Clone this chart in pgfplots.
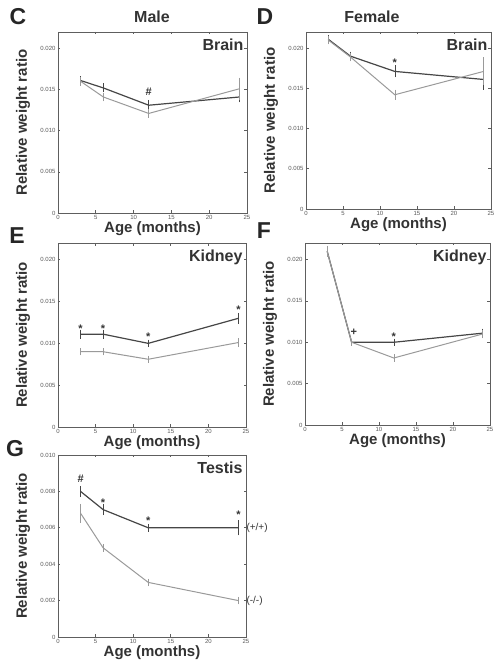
\documentclass[border=0pt]{standalone}
\usepackage{pgfplots}
\pgfplotsset{compat=1.18}
\usepackage{fontspec}
\setmainfont{Liberation Sans}
\definecolor{wt}{HTML}{464646}
\definecolor{ko}{HTML}{9A9A9A}
\definecolor{frame}{HTML}{5E5E5E}

\pgfplotsset{
  panel/.style={
    scale only axis,
    xmin=0, xmax=25, ymin=0, ymax=0.022,
    xtick={0,5,10,15,20,25},
    ytick={0,0.005,0.010,0.015,0.020},
    yticklabels={0,0.005,0.010,0.015,0.020},
    scaled y ticks=false,
    tick align=inside,
    tick pos=both,
    xticklabel pos=bottom, yticklabel pos=left,
    major tick length=2.5pt,
    axis line style={frame, line width=0.9pt},
    every tick/.style={frame, line width=0.6pt},
    tick label style={font=\fontsize{6}{7}\selectfont, text=black!65},
    /pgf/number format/assume math mode=true,
    xticklabel style={yshift=1pt},
    yticklabel style={xshift=1pt},
    xlabel={Age (months)},
    ylabel={Relative weight ratio},
    every axis x label/.style={at={(rel axis cs:0.5,0)}, anchor=center, yshift=-16pt,
      font=\fontsize{15}{17}\selectfont\bfseries, text=black!80},
    every axis y label/.style={at={(rel axis cs:0,0.5)}, anchor=center, xshift=-35pt, rotate=90,
      font=\fontsize{15}{17}\selectfont\bfseries, text=black!80},
    clip=false,
  },
  wtline/.style={wt, line width=1.2pt, mark=none,
    error bars/.cd, y dir=both, y explicit,
    error bar style={wt, line width=0.5pt},
    error mark options={wt, line width=0.5pt, mark size=2pt}},
  koline/.style={ko, line width=1.0pt, mark=none,
    error bars/.cd, y dir=both, y explicit,
    error bar style={ko, line width=0.5pt},
    error mark options={ko, line width=0.5pt, mark size=2pt}},
}
\tikzset{
  inname/.style={font=\fontsize{16}{18}\selectfont\bfseries, text=black!80, anchor=north east},
  sig/.style={font=\fontsize{11}{12}\selectfont\bfseries, text=black!80},
  letter/.style={font=\fontsize{23}{25}\selectfont\bfseries, text=black!85},
  geno/.style={font=\fontsize{10}{11}\selectfont, text=black!80, anchor=west},
}

\begin{document}
\begin{tikzpicture}
\useasboundingbox (0pt,0pt) rectangle (494pt,665pt);

% panel letters and titles
\node[letter] at (18pt,648pt) {C};
\node[font=\fontsize{16}{18}\selectfont\bfseries, text=black!80] at (152pt,648pt) {Male};
\node[letter] at (265pt,648pt) {D};
\node[font=\fontsize{16}{18}\selectfont\bfseries, text=black!80] at (372pt,648pt) {Female};
\node[letter] at (17pt,429pt) {E};
\node[letter] at (264pt,434pt) {F};
\node[letter] at (15pt,216pt) {G};

% C: male brain
\begin{axis}[panel, at={(58pt,452pt)}, anchor=south west, width=189pt, height=181pt]
\addplot+[wtline] table[y error=e] {
x y e
3 0.0161 0.0003
6 0.0152 0.0003
12 0.0131 0.0004
24 0.0141 0.0004
};
\addplot+[koline] table[y error=e] {
x y e
3 0.0160 0.0003
6 0.0141 0.0003
12 0.0121 0.0003
24 0.0151 0.0011
};
\node[sig] at (axis cs:12,0.0147) {\#};
\node[inname] at (rel axis cs:1,0.98) {Brain};
\end{axis}

% D: female brain
\begin{axis}[panel, at={(306pt,456pt)}, anchor=south west, width=185pt, height=177pt]
\addplot+[wtline] table[y error=e] {
x y e
3 0.0211 0.0003
6 0.0190 0.0003
12 0.0171 0.0005
24 0.0161 0.0010
};
\addplot+[koline] table[y error=e] {
x y e
3 0.0210 0.0003
6 0.0189 0.0003
12 0.0142 0.0004
24 0.0171 0.0015
};
\node[sig] at (axis cs:12,0.0182) {*};
\node[inname] at (rel axis cs:1,0.98) {Brain};
\end{axis}

% E: male kidney
\begin{axis}[panel, at={(58pt,238pt)}, anchor=south west, width=188pt, height=184pt]
\addplot+[wtline] table[y error=e] {
x y e
3 0.0111 0.0003
6 0.0111 0.0003
12 0.0100 0.0002
24 0.0130 0.0004
};
\addplot+[koline] table[y error=e] {
x y e
3 0.0090 0.0002
6 0.0090 0.0002
12 0.0081 0.0002
24 0.0101 0.0003
};
\node[sig] at (axis cs:3,0.0117) {*};
\node[sig] at (axis cs:6,0.0117) {*};
\node[sig] at (axis cs:12,0.0108) {*};
\node[sig] at (axis cs:24,0.0140) {*};
\node[inname] at (rel axis cs:1,0.98) {Kidney};
\end{axis}

% F: female kidney
\begin{axis}[panel, at={(305pt,240pt)}, anchor=south west, width=185pt, height=182pt]
\addplot+[wtline] table[y error=e] {
x y e
3 0.0210 0.0004
6.3 0.0100 0.0002
12 0.0100 0.0002
24 0.0111 0.0003
};
\addplot+[koline] table[y error=e] {
x y e
3 0.0210 0.0004
6.3 0.0100 0.0002
12 0.0081 0.0002
24 0.0110 0.0003
};
\node[sig] at (axis cs:6.6,0.0112) {+};
\node[sig] at (axis cs:12,0.0107) {*};
\node[inname] at (rel axis cs:1,0.98) {Kidney};
\end{axis}

% G: testis
\begin{axis}[panel, at={(58pt,28pt)}, anchor=south west, width=188pt, height=182pt,
  ymax=0.010, ytick={0,0.002,0.004,0.006,0.008,0.010},
  yticklabels={0,0.002,0.004,0.006,0.008,0.010}]
\addplot+[wtline] table[y error=e] {
x y e
3 0.0080 0.0002
6 0.0070 0.0002
12 0.0060 0.0001
24 0.0060 0.0003
};
\addplot+[koline] table[y error=e] {
x y e
3 0.0068 0.0004
6 0.0049 0.0001
12 0.0030 0.0001
24 0.0020 0.0001
};
\node[sig] at (axis cs:3,0.0087) {\#};
\node[sig] at (axis cs:6,0.0074) {*};
\node[sig] at (axis cs:12,0.0064) {*};
\node[sig] at (axis cs:24,0.0067) {*};
\node[geno] at (axis cs:24.6,0.0060) {(+/+)};
\node[geno] at (axis cs:24.6,0.0020) {(-/-)};
\node[inname] at (rel axis cs:1,0.98) {Testis};
\end{axis}
\end{tikzpicture}
\end{document}
